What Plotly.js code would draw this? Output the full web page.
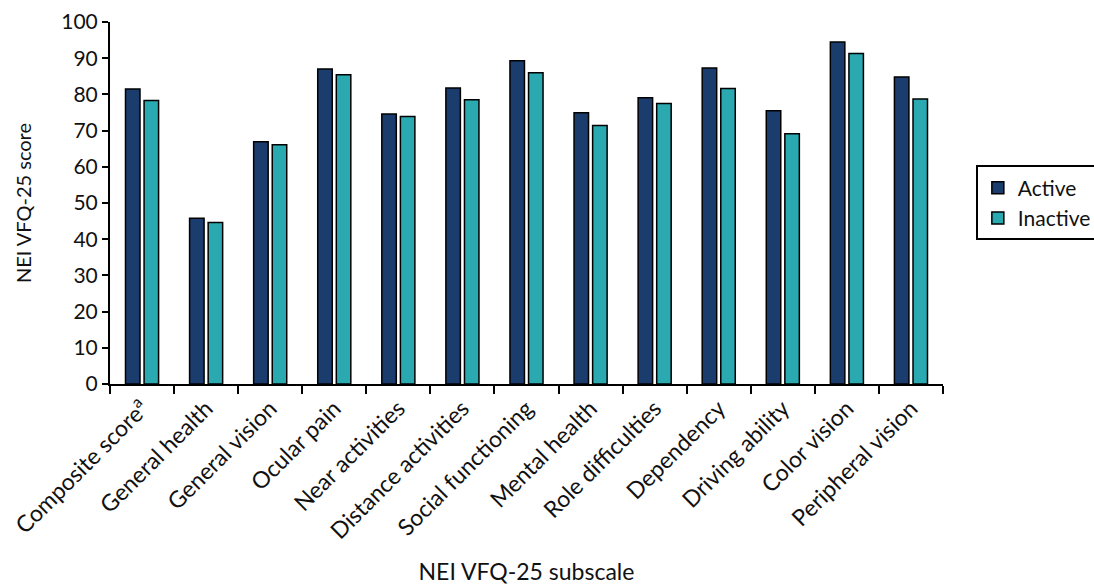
<!DOCTYPE html>
<html>
<head>
<meta charset="utf-8">
<script src="https://cdn.plot.ly/plotly-3.0.1.min.js"></script>
<style>
html, body { margin: 0; padding: 0; background: #ffffff; }
#chart { width: 1094px; height: 585px; }
</style>
</head>
<body>
<div id="chart"></div>
<script>
const categories = [
  "Composite score<sup>a</sup>", "General health", "General vision", "Ocular pain",
  "Near activities", "Distance activities", "Social functioning", "Mental health",
  "Role difficulties", "Dependency", "Driving ability", "Color vision", "Peripheral vision"
];
const activeValues = [81.5, 45.8, 66.9, 87.0, 74.6, 81.8, 89.3, 74.9, 79.1, 87.3, 75.5, 94.5, 84.8];
const inactiveValues = [78.3, 44.6, 66.1, 85.4, 73.9, 78.5, 86.0, 71.4, 77.5, 81.6, 69.1, 91.3, 78.7];
const yTickValues = [0, 10, 20, 30, 40, 50, 60, 70, 80, 90, 100];

const FONT = "Lato, 'Open Sans', sans-serif";

const traces = [
  {
    type: "bar", name: "Active", x: categories, y: activeValues,
    marker: { color: "#1B3D6E", line: { color: "#000000", width: 1.5 } }
  },
  {
    type: "bar", name: "Inactive", x: categories, y: inactiveValues,
    marker: { color: "#2BA9B0", line: { color: "#000000", width: 1.5 } }
  }
];

const layout = {
  width: 1094, height: 585,
  paper_bgcolor: "#ffffff", plot_bgcolor: "#ffffff",
  font: { family: FONT, color: "#111111", size: 21 },
  margin: { l: 110, r: 151, t: 22, b: 201, pad: 0 },
  barmode: "group",
  bargap: 0.42,
  bargroupgap: 0.22,
  showlegend: true,
  legend: {
    xref: "container", yref: "container",
    x: 0.892, xanchor: "left", y: 0.653, yanchor: "middle",
    bordercolor: "#000000", borderwidth: 2, bgcolor: "#ffffff",
    font: { family: FONT, size: 21, color: "#111111" },
    tracegroupgap: 0
  },
  xaxis: {
    type: "category",
    tickson: "boundaries",
    ticks: "outside", ticklen: 8, tickwidth: 2, tickcolor: "#000000",
    showline: true, linecolor: "#000000", linewidth: 2,
    showgrid: false, zeroline: false,
    tickangle: -45,
    tickfont: { family: FONT, size: 23, color: "#111111" },
    title: { text: "NEI VFQ-25 subscale", font: { family: FONT, size: 23, color: "#111111" }, standoff: 26 },
    automargin: false
  },
  yaxis: {
    range: [0, 100],
    tickvals: yTickValues,
    ticks: "outside", ticklen: 6, tickwidth: 2, tickcolor: "#000000",
    showline: true, linecolor: "#000000", linewidth: 2,
    showgrid: false, zeroline: false,
    tickfont: { family: FONT, size: 21, color: "#111111" },
    title: { text: "NEI VFQ-25 score", font: { family: FONT, size: 20, color: "#111111" }, standoff: 24 },
    automargin: false
  }
};

Plotly.newPlot("chart", traces, layout, { staticPlot: true, displayModeBar: false });
</script>
</body>
</html>
